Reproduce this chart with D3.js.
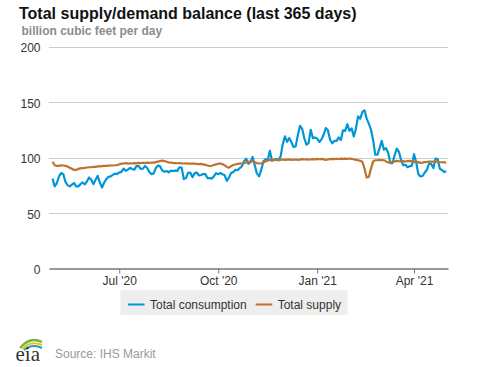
<!DOCTYPE html>
<html><head><meta charset="utf-8">
<script src="https://cdn.jsdelivr.net/npm/d3@7"></script>
<style>body{margin:0;background:#fff}svg{display:block}</style>
</head><body>
<svg id="c" width="477" height="367"></svg>
<script>
// ---- data (billion cubic feet per day), one value every 2 days from startDate ----
const startDate = "2020-04-30";
const stepDays = 2;
const consumption = [
81,74,77,83,86,85,78,75,74,75.5,77,74,74,76,77.5,75.8,78.5,82,80,76,
80,83.5,77.5,73,77.5,80.5,82.6,83,84.3,85.5,85,86.5,87,90,88,89,90.7,89.7,89,92.2,
92.3,89.8,90,92.3,90.5,87,85,85.7,90.5,92.8,92,88.2,87.2,87.8,86.7,88.2,87.8,88.2,88,91.2,
91,80.5,81.5,86.2,86.5,82.3,85.7,86.5,83.8,84.2,85.2,85,81.5,81.4,81,83,85.9,84.9,86,84.9,
84,79,82,86,87,89,88.5,90.5,92,96.5,99,94.3,95.8,100.5,92.8,85.5,83,89,96.5,98.5,
97.5,106,97,98,98.6,97.4,101,112,119,114,117.5,114,109.5,110,120,128.5,126,117.5,111.5,113,
125,117.5,118,117,114,116.3,120.5,126.5,124.5,116,112.8,115,115,118.1,115.8,124.5,124,130,124,126.2,
119,126,137,135,141,142.5,135,130.5,125,115.5,102.5,102.5,108.5,115,107,108.5,104,95,95,102,
108,105,97.5,93,93.5,91.3,92.2,92.5,103,96,85,83,83.3,86.5,89,94.5,94.2,90.5,99,98.5,
89.8,88.8,86.9,87.7
];
const supply = [
96,93,92.5,92.5,93,92.8,92.5,91.8,90.8,89.8,88.8,88.8,89.8,90.2,90.5,90.7,91,91.2,91.3,91.5,
91.6,92,92,92.3,92.5,92.4,92.6,92.8,92.8,93,93.2,93.8,94.4,94.6,95,94.5,94.8,94.6,95,94.7,
95.2,95,95.3,95,95.4,95.2,95.5,95.3,95.8,96.3,96.8,97.2,96.8,96.2,95.6,95.3,95.1,95,94.8,95,
94.7,94.6,94.8,94.5,94.6,94.4,94.5,94.2,94,94.2,93.8,93.4,92.8,92.3,92.6,93.2,93.8,94.4,94.6,94,
93,91.5,90.8,92.3,93.2,93.7,94.2,94.5,94.6,95,95.6,96,96.4,96.6,95.8,95,94.6,94.8,95.5,96.5,
97.4,97.6,97.8,98,97.6,98,97.8,98.2,97.9,98.1,98.3,97.9,98,98.2,97.8,98,98.5,98.2,98.4,98.1,
98.3,98.6,98.3,98.8,98.4,98.7,98.3,97.8,98.2,98.6,98.8,98.5,98.9,98.6,99,98.7,99,98.8,99.1,98.7,
98.4,97.8,97.5,97,96.2,90,82,82.5,90,96.5,97.5,97.6,97.8,97.5,97.6,96.5,95.5,95.3,96,96.5,
97,96.6,96.5,96.8,96.4,96.8,97,96.6,96,95.6,95.8,95.2,95.4,95.8,96,96.3,96.4,96.2,96.5,96,
95.8,95.7,95.6,95.5
];
const seriesNames = ["Total consumption", "Total supply"];
const seriesColors = ["#0096d7", "#bd732c"];
const yTicks = [0, 50, 100, 150, 200];
const xTickDates = ["2020-07-01", "2020-10-01", "2021-01-01", "2021-04-01"];
const xTickLabels = ["Jul '20", "Oct '20", "Jan '21", "Apr '21"];
const titleText = "Total supply/demand balance (last 365 days)";
const subtitleText = "billion cubic feet per day";
const sourceText = "Source: IHS Markit";

// ---- drawing ----
const parse = d3.timeParse("%Y-%m-%d");
const t0 = parse(startDate);
const dates = consumption.map((_, i) => d3.timeDay.offset(t0, i * stepDays));
const series = [consumption, supply].map((vals, k) => ({
  name: seriesNames[k], color: seriesColors[k],
  pts: vals.map((v, i) => ({ d: dates[i], v }))
}));

const svg = d3.select("#c");
const font = "'Liberation Sans', Arial, sans-serif";

const x = d3.scaleTime()
  .domain([new Date(2020, 3, 26, 17), new Date(2021, 4, 2, 14)])
  .range([49, 448]);
const y = d3.scaleLinear().domain([0, 200]).range([268.5, 46.5]);

// title
svg.append("text").attr("x", 19).attr("y", 18.5)
  .attr("font-family", font).attr("font-size", 16).attr("font-weight", "bold")
  .attr("fill", "#111").text(titleText);
svg.append("text").attr("x", 21.5).attr("y", 35)
  .attr("font-family", font).attr("font-size", 12).attr("font-weight", "bold")
  .attr("fill", "#8c8c8c").text(subtitleText);

// gridlines
svg.append("g").selectAll("line").data(yTicks.filter(t => t > 0)).join("line")
  .attr("x1", 49).attr("x2", 448)
  .attr("y1", d => Math.round(y(d)) + 0.5).attr("y2", d => Math.round(y(d)) + 0.5)
  .attr("stroke", "#cccccc").attr("stroke-width", 1);

// y axis labels
const yAxis = d3.axisLeft(y).tickValues(yTicks).tickSize(0).tickPadding(0);
const gy = svg.append("g").attr("transform", "translate(40.5,0)").call(yAxis);
gy.select(".domain").remove();
gy.selectAll("text").attr("font-family", font).attr("font-size", 12)
  .attr("fill", "#333").attr("dy", "0.42em");

// x axis
const xAxis = d3.axisBottom(x).tickValues(xTickDates.map(parse))
  .tickFormat((d, i) => xTickLabels[i]).tickSize(5).tickSizeOuter(0).tickPadding(3);
const gx = svg.append("g").attr("transform", "translate(0,268.5)").call(xAxis);
gx.select(".domain").attr("stroke", "#777").attr("stroke-width", 1.3);
gx.selectAll(".tick line").attr("stroke", "#777");
gx.selectAll("text").attr("font-family", font).attr("font-size", 12).attr("fill", "#333");

// lines (supply drawn after consumption, so on top)
const line = d3.line().x(p => x(p.d)).y(p => y(p.v));
svg.append("g").selectAll("path").data(series).join("path")
  .attr("d", s => line(s.pts)).attr("fill", "none")
  .attr("stroke", s => s.color).attr("stroke-width", 2.2)
  .attr("stroke-linejoin", "round");

// legend
const lg = svg.append("g");
lg.append("rect").attr("x", 120.5).attr("y", 290).attr("width", 227).attr("height", 25)
  .attr("fill", "#eeeeee");
const legendX = [128, 255.7];
series.forEach((s, k) => {
  lg.append("line").attr("x1", legendX[k]).attr("x2", legendX[k] + 16.5)
    .attr("y1", 304.5).attr("y2", 304.5).attr("stroke", s.color).attr("stroke-width", 2);
  lg.append("text").attr("x", legendX[k] + 22).attr("y", 308.5)
    .attr("font-family", font).attr("font-size", 12).attr("fill", "#333").text(s.name);
});

// eia logo
const logo = svg.append("g");
logo.append("path").attr("d", "M20,348 Q30,336 42,342").attr("fill", "none").attr("stroke", "#6db33f").attr("stroke-width", 2.2);
logo.append("path").attr("d", "M22,349 Q31,340 42,345").attr("fill", "none").attr("stroke", "#f2c300").attr("stroke-width", 2);
logo.append("path").attr("d", "M24,350 Q32,343 42,348").attr("fill", "none").attr("stroke", "#1f9bd7").attr("stroke-width", 2);
logo.append("text").attr("x", 15.5).attr("y", 361).attr("font-family", "'Liberation Serif','DejaVu Serif',serif")
  .attr("font-size", 21).attr("fill", "#333").text("eia");

svg.append("text").attr("x", 55).attr("y", 357.5)
  .attr("font-family", font).attr("font-size", 12).attr("fill", "#999").text(sourceText);
</script>
</body></html>
